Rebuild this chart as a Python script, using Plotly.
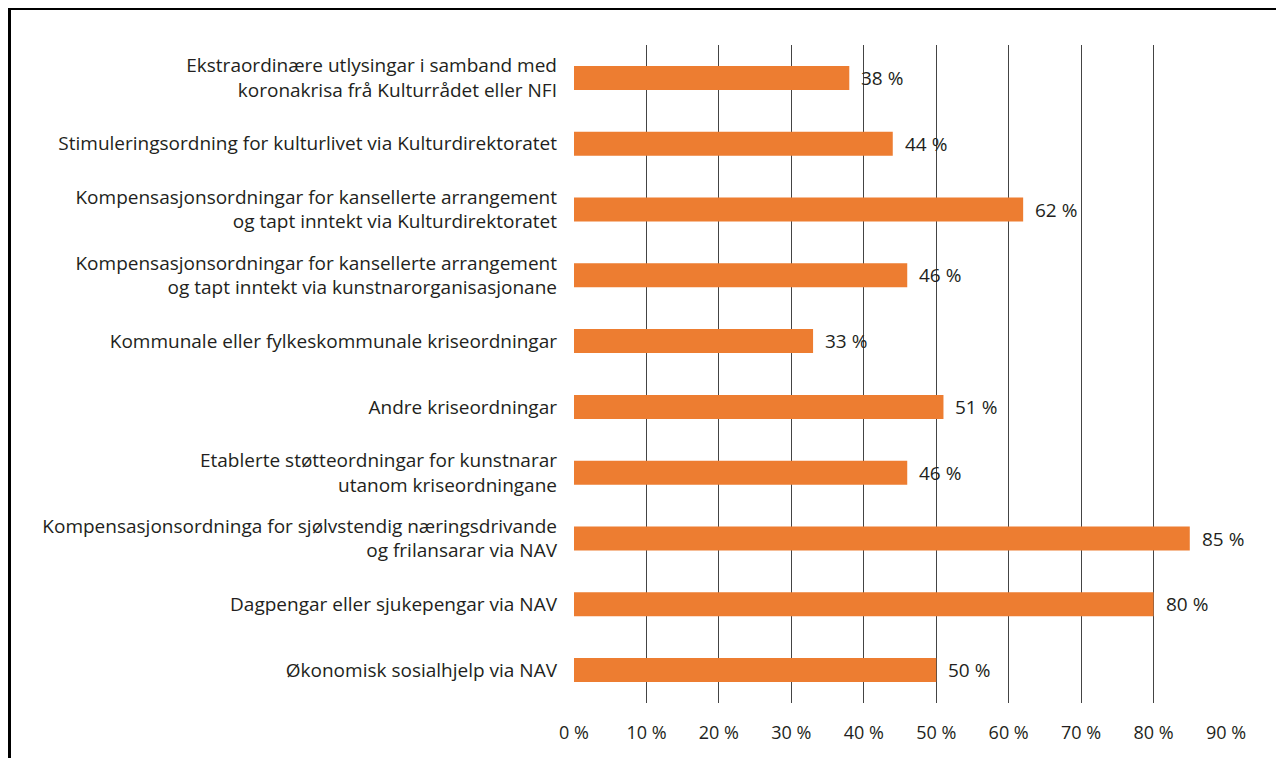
import plotly.graph_objects as go

categories = [
    "Ekstraordinære utlysingar i samband med<br>koronakrisa frå Kulturrådet eller NFI",
    "Stimuleringsordning for kulturlivet via Kulturdirektoratet",
    "Kompensasjonsordningar for kansellerte arrangement<br>og tapt inntekt via Kulturdirektoratet",
    "Kompensasjonsordningar for kansellerte arrangement<br>og tapt inntekt via kunstnarorganisasjonane",
    "Kommunale eller fylkeskommunale kriseordningar",
    "Andre kriseordningar",
    "Etablerte støtteordningar for kunstnarar<br>utanom kriseordningane",
    "Kompensasjonsordninga for sjølvstendig næringsdrivande<br>og frilansarar via NAV",
    "Dagpengar eller sjukepengar via NAV",
    "Økonomisk sosialhjelp via NAV",
]
values = [38, 44, 62, 46, 33, 51, 46, 85, 80, 50]
tick_values = [0, 10, 20, 30, 40, 50, 60, 70, 80, 90]
tick_labels = [f"{v} %" for v in tick_values]

W, H = 1284, 758
# page has an 8px body margin; compensate
ml, mr, mt, mb = 566, 66, 37, 63
FONT = "'Open Sans', sans-serif"
FS = 19
FS_TICK = 18
TXT = "#231F20"

fig = go.Figure(go.Bar(
    x=values,
    y=categories,
    orientation="h",
    marker=dict(color="#ED7D31", line=dict(width=0)),
    width=0.365,
    hoverinfo="x+y",
))

for c, v in zip(categories, values):
    fig.add_annotation(
        x=v, y=c, xref="x", yref="y",
        text=f"{v} %", showarrow=False,
        xanchor="left", yanchor="middle", xshift=10,
        font=dict(size=FS, color=TXT, family=FONT),
    )

fig.update_layout(
    width=W, height=H,
    margin=dict(l=ml, r=mr, t=mt, b=mb, pad=0),
    plot_bgcolor="white",
    paper_bgcolor="white",
    font=dict(family=FONT, size=FS, color=TXT),
    showlegend=False,
)
fig.update_xaxes(
    range=[0, 90],
    tickvals=tick_values,
    ticktext=tick_labels,
    showgrid=True,
    gridcolor="#444444",
    gridwidth=1,
    zeroline=False,
    showline=False,
    ticks="",
    ticklabelstandoff=17,
    tickfont=dict(size=FS_TICK, family=FONT, color=TXT),
)
fig.update_yaxes(
    autorange="reversed",
    showgrid=False,
    showline=False,
    ticks="",
    ticklabelstandoff=16,
    tickfont=dict(size=FS, family=FONT, color=TXT),
)

pw = W - ml - mr
ph = H - mt - mb
fig.add_shape(
    type="rect", xref="paper", yref="paper",
    x0=(1.5 - ml) / pw, x1=(W + 20 - ml) / pw,
    y0=-(mb + 20) / ph, y1=((H - mb) - 0.5) / ph,
    line=dict(color="black", width=3),
    fillcolor="rgba(0,0,0,0)",
    layer="above",
)

fig.write_html("out.html")
